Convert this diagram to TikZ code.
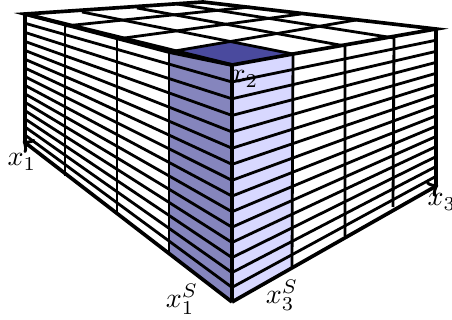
\documentclass[tikz,border=0pt]{standalone}
\usetikzlibrary{calc}
\tikzset{
    edgeline/.style={line width=1.5pt},
    cellline/.style={line width=1.15pt},
    axislabel/.style={scale=1.15},
}
\definecolor{sidedark}{HTML}{8585BD}
\definecolor{sidelight}{HTML}{D8D8FF}
\definecolor{topdark}{HTML}{4A4A9E}
\begin{document}
\begin{tikzpicture}[x=0.41pt,y=-0.41pt]
            \useasboundingbox (0,0) rectangle (452,320);
            \coordinate (LT) at (25,14);
            \coordinate (LB) at (25,143);
            \coordinate (NT) at (232,65);
            \coordinate (NB) at (232,302);
            \coordinate (RT) at (436,29);
            \coordinate (RB) at (436,186);
            \coordinate (BK) at (203,2);
            \coordinate (CT) at (169,52);
            \coordinate (CB) at (169,255);
            \coordinate (DT) at (293,54);
            \coordinate (DB) at (292,267);
            \coordinate (AP) at (227,42);
            % shaded column
            \fill[sidedark] (CT)--(NT)--(NB)--(CB)--cycle;
            \fill[sidelight] (NT)--(DT)--(DB)--(NB)--cycle;
            \fill[topdark] (CT)--(NT)--(DT)--(AP)--cycle;
            % layers
            \foreach \k in {1,...,14} {
                \pgfmathsetmacro{\t}{1.08*\k/15-0.08*(\k/15)^2}
                \draw[cellline] ($(LT)!\t!(LB)$)--($(NT)!\t!(NB)$)--($(RT)!\t!(RB)$);
            }
            % vertical edges
            \draw[cellline] (65,26)--(65,176) (117,39)--(117,214) (CT)--(CB);
            \draw[cellline] (DT)--(DB) (345,46)--(345,236) (394,38)--(393,207);
            % top grid
            \draw[cellline] (65,26)--(250,7) (117,39)--(301,14) (CT)--(356,20);
            \draw[cellline] (DT)--(82,12) (345,46)--(137,8) (394,38)--(177,4);
            % outline
            \draw[edgeline] (LT)--(BK)--(RT)--(DT)--(NT)--(CT)--cycle;
            \draw[edgeline] (LT)--(NT);
            \draw[edgeline] (NT)--(NB);
            \draw[edgeline] (RT)--(RB);
            \draw[edgeline] (LT)--(LB);
            \draw[edgeline,->] (NB)--(23,141);
            \draw[edgeline,->] (NB)--(438,185);
            \node[axislabel] (xone) at (22,162) {$x_1$};
            \node[axislabel] (xtwo) at (244,79) {$x_2$};
            \node[axislabel] (xthree) at (442,202) {$x_3$};
            \node[axislabel] (xones) at (182,299) {$x_1^S$};
            \node[axislabel] (xthrees) at (282,295) {$x_3^S$};
        \end{tikzpicture}
\end{document}
